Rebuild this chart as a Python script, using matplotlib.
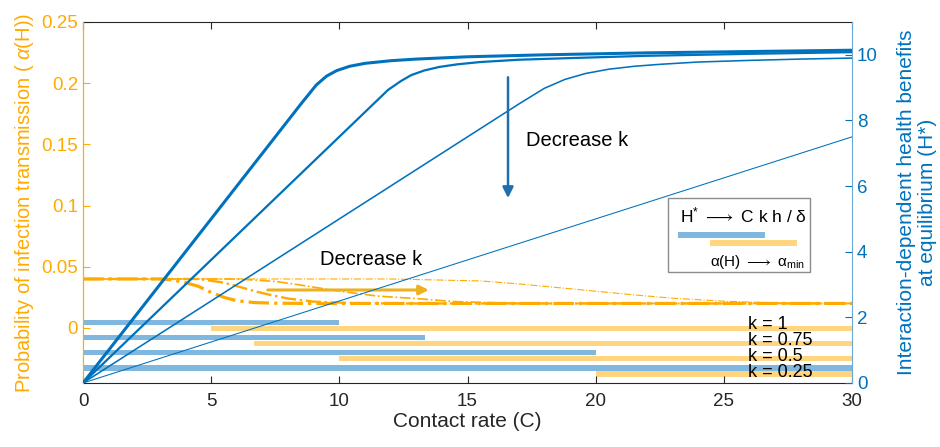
import numpy as np
import matplotlib.pyplot as plt
from matplotlib.patches import Rectangle
from matplotlib.ticker import FormatStrFormatter

plt.rcParams['font.family'] = ['Liberation Sans', 'DejaVu Sans']
plt.rcParams['mathtext.fontset'] = 'custom'
plt.rcParams['mathtext.rm'] = 'Liberation Sans'
plt.rcParams['mathtext.it'] = 'Liberation Sans:italic'

# k values (strongest to weakest effect)
k_vals = [1, 0.75, 0.5, 0.25]
k_labels = ['k = 1', 'k = 0.75', 'k = 0.5', 'k = 0.25']

# H* vs contact rate (right axis)
hC_k1 = [0, 8.5, 9.1, 9.5, 9.9, 10.4, 11.0, 12.0, 13.0, 15.0, 18.0, 22.0, 26.0, 30.0]
h_k1 = [0, 8.5, 9.08, 9.35, 9.52, 9.65, 9.74, 9.82, 9.87, 9.94, 10.0, 10.06, 10.1, 10.14]
hC_k075 = [0, 11.9, 12.4, 12.8, 13.3, 13.9, 14.6, 15.5, 17.0, 19.0, 22.0, 26.0, 30.0]
h_k075 = [0, 8.93, 9.2, 9.38, 9.52, 9.63, 9.71, 9.78, 9.85, 9.9, 9.97, 10.03, 10.08]
hC_k05 = [0, 17.0, 18.0, 18.8, 19.6, 20.5, 21.5, 22.5, 24.0, 26.0, 28.0, 30.0]
h_k05 = [0, 8.5, 8.98, 9.25, 9.43, 9.56, 9.65, 9.71, 9.78, 9.83, 9.87, 9.9]
hC_k025 = [0, 30]
h_k025 = [0, 7.5]

# alpha(H) vs contact rate (left axis)
aC_k1 = [0, 3.0, 3.5, 4.0, 4.5, 5.0, 5.5, 6.0, 6.7, 7.5, 9.0, 30]
a_k1 = [0.040, 0.040, 0.0392, 0.037, 0.034, 0.029, 0.025, 0.0222, 0.0207, 0.0202, 0.020, 0.020]
aC_k075 = [0, 4.5, 5.5, 6.2, 6.7, 7.3, 8.0, 9.0, 10.5, 12.0, 30]
a_k075 = [0.040, 0.040, 0.037, 0.033, 0.030, 0.027, 0.024, 0.0215, 0.0203, 0.020, 0.020]
aC_k05 = [0, 6.0, 7.5, 8.5, 10.0, 11.5, 13.0, 14.5, 16.5, 18.0, 30]
a_k05 = [0.040, 0.040, 0.038, 0.035, 0.030, 0.026, 0.024, 0.0215, 0.0203, 0.020, 0.020]
aC_k025 = [0, 12.0, 15.5, 17.0, 18.5, 20.0, 21.5, 23.0, 25.0, 27.0, 30]
a_k025 = [0.040, 0.040, 0.0384, 0.036, 0.033, 0.030, 0.027, 0.0243, 0.0218, 0.0205, 0.0201]

# bar ranges: H* grows up to 10/k, alpha at minimum from 5/k
blue_end = [10, 13.33, 20, 30]
orange_start = [5, 6.67, 10, 20]

blue = '#0072BD'
orange = '#FFAA00'
light_blue = '#7FB7DE'
light_orange = '#FFD57F'

fig = plt.figure(figsize=(9.4, 4.47), dpi=100)
ax = fig.add_axes([0.0883, 0.1432, 0.8181, 0.8076])
ax2 = ax.twinx()

# bars
for i in range(4):
    yb = 0.0045 - i * 0.0124
    ax.barh(yb, blue_end[i], left=0, height=0.0042, color=light_blue, zorder=1)
    ax.barh(yb - 0.0049, 30 - orange_start[i], left=orange_start[i], height=0.0042,
            color=light_orange, zorder=1)
    ax.text(25.95, 0.0025 - i * 0.0131, k_labels[i], fontsize=13, va='center',
            ha='left', zorder=5)

# alpha curves
widths = [2.3, 1.7, 1.2, 0.8]
a_C = [aC_k1, aC_k075, aC_k05, aC_k025]
a_V = [a_k1, a_k075, a_k05, a_k025]
for c, a, w in zip(a_C, a_V, widths):
    ax.plot(c, a, '-.', color=orange, lw=w, zorder=3)

# H* curves
h_C = [hC_k1, hC_k075, hC_k05, hC_k025]
h_V = [h_k1, h_k075, h_k05, h_k025]
for c, h, w in zip(h_C, h_V, widths):
    ax2.plot(c, h, '-', color=blue, lw=w * 0.95, zorder=3)

# arrows + annotations
ax2.annotate('', xy=(16.58, 5.55), xytext=(16.58, 9.4),
             arrowprops=dict(arrowstyle='-|>', color='#1f6fae', lw=1.8,
                             mutation_scale=16))
ax2.text(17.3, 7.4, 'Decrease k', fontsize=14.5, va='center', ha='left')
ax.annotate('', xy=(13.6, 0.031), xytext=(7.1, 0.031),
            arrowprops=dict(arrowstyle='-|>', color='#EDB120', lw=2.2,
                            mutation_scale=14))
ax.text(9.25, 0.0556, 'Decrease k', fontsize=14.5, va='center', ha='left')

# key box
ax.add_patch(Rectangle((0.761, 0.307), 0.184, 0.205, transform=ax.transAxes,
                       facecolor='white', edgecolor='#8c8c8c', lw=1, zorder=6))
ax.text(0.776, 0.465, r'H$^{*}$ $\longrightarrow$ C k h / δ', transform=ax.transAxes,
        fontsize=12.5, va='center', ha='left', zorder=7)
ax.plot([0.774, 0.887], [0.410, 0.410], transform=ax.transAxes, color=light_blue,
        lw=4.3, solid_capstyle='butt', zorder=7)
ax.plot([0.815, 0.928], [0.388, 0.388], transform=ax.transAxes, color=light_orange,
        lw=4.3, solid_capstyle='butt', zorder=7)
ax.text(0.815, 0.335, r'α(H) $\longrightarrow$ α$_{\mathregular{min}}$', transform=ax.transAxes,
        fontsize=11, va='center', ha='left', zorder=7)

# axes styling
ax.set_xlim(0, 30)
ax.set_ylim(-0.045, 0.25)
ax2.set_ylim(0, 11)
ax.set_xticks(range(0, 31, 5))
ax.set_yticks([0, 0.05, 0.1, 0.15, 0.2, 0.25])
ax.yaxis.set_major_formatter(FormatStrFormatter('%g'))
ax2.set_yticks([0, 2, 4, 6, 8, 10])

ax.tick_params(axis='x', direction='in', top=True, labelsize=13.5, colors='#262626',
               length=5, pad=7)
ax.tick_params(axis='y', direction='in', labelsize=13.5, colors=orange, length=5)
ax2.tick_params(axis='y', direction='in', labelsize=13.5, colors=blue, length=5)

for s in ['top', 'bottom']:
    ax.spines[s].set_color('#262626')
    ax2.spines[s].set_visible(False)
ax.spines['left'].set_color(orange)
ax2.spines['left'].set_color(orange)
ax.spines['right'].set_visible(False)
ax2.spines['right'].set_color('#6aa8d6')

ax.set_xlabel('Contact rate (C)', fontsize=15, color='#262626', labelpad=2)
ax.set_ylabel(r'Probability of infection transmission ( $\mathit{\alpha}$(H))',
              fontsize=14.5, color=orange, labelpad=4)
ax2.set_ylabel('Interaction-dependent health benefits\nat equilibrium (H*)',
               fontsize=15, color=blue, labelpad=14, linespacing=1.1)

plt.savefig('out.png', dpi=100)
